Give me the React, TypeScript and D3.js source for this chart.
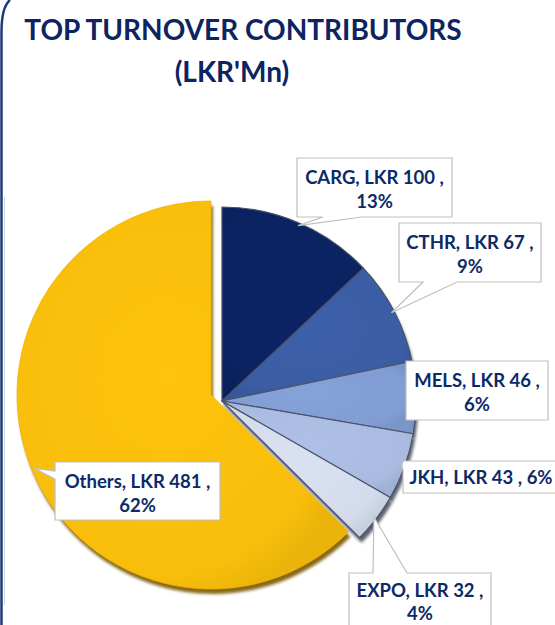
import React from "react";
import * as d3 from "d3";

const categories = ["CARG", "CTHR", "MELS", "JKH", "EXPO", "Others"];
const values = [100, 67, 46, 43, 32, 481];
const percents = ["13%", "9%", "6%", "6%", "4%", "62%"];
const colors = ["#0B2361", "#3B5DA5", "#819DD3", "#A9BBE0", "#D3DBEC", "#F8BE0B"];
const shadowColors = ["#3a3f4c", "#3a3f4c", "#4a4f5c", "#4a4f5c", "#4a4f5c", "#7a5800"];

// slice centre offsets (layout)
const sliceOffset = [
  [0, 0],
  [0, 0],
  [0, 0],
  [0, 0],
  [0, 0],
  [-11, -6],
];

// label layout: box rect, line mode, text baselines
const labelLayout = [
  { x: 297, y: 158, w: 155, h: 59, lines: 2, wedge: "bottom", w1: 323, w2: 362, b1: 26, b2: 50 },
  { x: 399, y: 223, w: 142, h: 59, lines: 2, wedge: "bottom", w1: 423, w2: 457, b1: 26, b2: 50 },
  { x: 406, y: 361, w: 142, h: 59, lines: 2, wedge: "none", w1: 0, w2: 0, b1: 26, b2: 50 },
  { x: 403, y: 461, w: 156, h: 32, lines: 1, wedge: "left", w1: 462, w2: 470, b1: 23, b2: 0 },
  { x: 349, y: 573, w: 142, h: 70, lines: 2, wedge: "top", w1: 373, w2: 407, b1: 24, b2: 47 },
  { x: 55, y: 462, w: 165, h: 58, lines: 2, wedge: "left", w1: 471, w2: 479, b1: 26, b2: 50 },
];

const W = 555;
const H = 625;
const cx = 222;
const cy = 401;
const R = 194;
const NAVY = "#0D2A68";
const FS = 18.5;

export default function App() {
  const pie = d3.pie<number>().sort(null).startAngle(0).endAngle(2 * Math.PI)(values);
  const arc = d3.arc<d3.PieArcDatum<number>>().innerRadius(0).outerRadius(R);

  const slices = pie.map((p, i) => {
    const mid = (p.startAngle + p.endAngle) / 2;
    const ox = cx + sliceOffset[i][0];
    const oy = cy + sliceOffset[i][1];
    const tipR = R * 0.985;
    const tip = [ox + Math.sin(mid) * tipR, oy - Math.cos(mid) * tipR];
    return { p, i, ox, oy, d: arc(p) as string, tip };
  });

  const callout = (i: number, tip: number[]) => {
    const L = labelLayout[i];
    const { x, y, w, h } = L;
    const r = x + w;
    const b = y + h;
    const [tx, ty] = tip;
    if (L.wedge === "bottom") {
      return `M${x},${y}H${r}V${b}H${L.w2}L${tx},${ty}L${L.w1},${b}H${x}Z`;
    }
    if (L.wedge === "top") {
      return `M${x},${y}H${L.w1}L${tx},${ty}L${L.w2},${y}H${r}V${b}H${x}Z`;
    }
    if (L.wedge === "left") {
      return `M${x},${y}H${r}V${b}H${x}V${L.w2}L${tx},${ty}L${x},${L.w1}Z`;
    }
    return `M${x},${y}H${r}V${b}H${x}Z`;
  };

  return (
    <svg
      width={W}
      height={H}
      viewBox={`0 0 ${W} ${H}`}
      style={{ position: "absolute", left: 0, top: 0, background: "#fff" }}
      fontFamily="Lato, 'Open Sans', sans-serif"
    >
      <defs>
        <filter id="blur" x="-10%" y="-10%" width="120%" height="120%">
          <feGaussianBlur stdDeviation="1.6" />
        </filter>
        {colors.map((c, i) => (
          <radialGradient key={i} id={`g${i}`} cx="45%" cy="45%" r="60%">
            <stop offset="0%" stopColor={d3.color(c)!.brighter(0.08).formatHex()} />
            <stop offset="85%" stopColor={c} />
            <stop offset="100%" stopColor={d3.color(c)!.darker(0.15).formatHex()} />
          </radialGradient>
        ))}
      </defs>

      {/* frame */}
      <path d="M10,0 C4,5 1.5,14 1.5,32 L1.5,625" fill="none" stroke="#1F3A7C" strokeWidth={2.5} />
      <line x1={4.5} y1={197} x2={4.5} y2={605} stroke="#cdd5e6" strokeWidth={1} />

      {/* title */}
      <text x={243} y={40} textAnchor="middle" fontSize={28} fontWeight={700} fill="#0C2461">
        TOP TURNOVER CONTRIBUTORS
      </text>
      <text x={232} y={82} textAnchor="middle" fontSize={28} fontWeight={700} fill="#0C2461">
        (LKR'Mn)
      </text>

      {/* shadows */}
      {slices.map((s) => (
        <path
          key={`s${s.i}`}
          d={s.d}
          transform={`translate(${s.ox + 2},${s.oy + 5})`}
          fill={shadowColors[s.i]}
          filter="url(#blur)"
          opacity={0.9}
        />
      ))}

      {/* slices */}
      {slices.map((s) => (
        <path
          key={`p${s.i}`}
          d={s.d}
          transform={`translate(${s.ox},${s.oy})`}
          fill={`url(#g${s.i})`}
          stroke={s.i === 5 ? "#F2B400" : "#4b5466"}
          strokeWidth={s.i === 5 ? 0.8 : 1.2}
          strokeLinejoin="round"
        />
      ))}

      {/* labels */}
      {slices.map((s) => {
        const L = labelLayout[s.i];
        const midX = L.x + L.w / 2;
        const line1 =
          L.lines === 1
            ? `${categories[s.i]}, LKR ${values[s.i]} , ${percents[s.i]}`
            : `${categories[s.i]}, LKR ${values[s.i]} ,`;
        return (
          <g key={`l${s.i}`}>
            <path d={callout(s.i, s.tip)} fill="#fff" stroke="#BFBFBF" strokeWidth={1.2} />
            <text x={midX} y={L.y + L.b1} textAnchor="middle" fontSize={FS} fontWeight={700} fill={NAVY}>
              {line1}
            </text>
            {L.lines === 2 && (
              <text x={midX} y={L.y + L.b2} textAnchor="middle" fontSize={FS} fontWeight={700} fill={NAVY}>
                {percents[s.i]}
              </text>
            )}
          </g>
        );
      })}
    </svg>
  );
}
